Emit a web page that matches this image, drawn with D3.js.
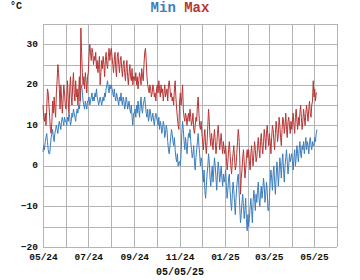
<!DOCTYPE html>
<html>
<head>
<meta charset="utf-8">
<script src="https://cdn.jsdelivr.net/npm/d3@7"></script>
<style>
  body { margin: 0; background: #fff; }
  text { font-family: "Liberation Mono", "DejaVu Sans Mono", monospace; font-weight: bold; }
</style>
</head>
<body>
<div id="chart"></div>
<script>
// daily readings, one value per day from 2024-05-01 to 2025-05-05
const startDay = "2024-05-01";
const stampLabel = "05/05/25";

const maxTemps = [
  // May 24
  15,12,11,13,10,14,19,18,15,12, 9,8,11,16,13,17,14,12,18,21, 25,23,19,14,20,17,13,16,20,18, 15,
  // Jun
  14,17,21,16,13,19,22,17,15,20, 23,18,16,21,17,19,15,18,22,16, 34,28,23,20,22,19,23,21,18,22,
  // Jul
  23,27,30,28,26,29,28,25,27,26, 28,24,26,23,25,27,20,23,26,24, 27,25,22,26,28,25,24,27,29,26, 28,
  // Aug
  29,27,25,23,26,28,24,22,27,28, 25,23,26,27,24,22,25,26,23,21, 24,26,22,20,23,25,22,21,24,20, 22,
  // Sep
  22,21,23,20,22,19,21,23,22,20, 24,22,21,25,28,29,26,22,20,19, 18,20,19,17,18,20,19,17,18,16,
  // Oct
  19,20,18,21,19,17,20,18,19,16, 18,20,17,18,19,16,20,21,19,17, 18,16,17,15,19,21,17,14,12,10, 9,
  // Nov
  16,18,15,17,20,14,12,11,13,12, 10,12,13,11,14,12,10,11,13,9, 8,10,12,11,15,17,13,10,9,11,
  // Dec
  8,6,4,7,9,5,3,6,10,14, 11,7,5,8,6,4,7,9,6,3, 5,8,10,7,4,6,8,5,3,6, 4,
  // Jan 25
  3,5,2,-1,1,4,6,3,0,-2, 1,3,5,2,-1,0,3,6,9,7, 2,-7,-3,-1,2,4,1,-3,-1,2, 4,
  // Feb
  2,4,1,-1,3,5,2,0,3,6, 4,1,2,5,7,4,2,6,8,5, 3,6,9,7,4,8,10,7,
  // Mar
  5,8,6,3,7,10,9,6,4,8, 11,9,6,8,12,10,7,5,9,12, 11,8,10,13,9,7,11,12,10,8, 11,
  // Apr
  9,11,13,10,8,12,14,11,9,12, 10,13,15,12,9,11,14,12,10,13, 15,13,11,14,16,13,12,15,16,21,
  // May 25
  17,19,16,18,18
];

const minTemps = [
  // May 24
  3.5,5,4,6,7,8,6,4,3,3, 5,7,8,9,7,6,8,9,10,9, 8,10,11,10,9,11,12,11,10,12, 11,
  // Jun
  11,10,12,11,13,12,10,11,13,12, 14,13,12,11,13,14,13,15,14,16, 19,20,18,16,15,14,16,15,14,16,
  // Jul
  16,17,15,16,17,18,16,17,16,18, 17,19,17,16,15,16,17,16,15,16, 17,16,18,17,19,20,21,19,18,20, 19,
  // Aug
  20,19,18,17,19,17,16,18,17,16, 15,17,16,18,16,15,17,16,14,15, 17,16,14,15,16,14,13,15,12,10, 13,
  // Sep
  13,14,12,15,13,16,14,12,15,17, 14,13,15,16,17,15,13,12,14,11, 12,14,13,11,12,13,11,10,12,13,
  // Oct
  12,11,10,12,9,11,10,8,9,11, 10,7,8,10,9,6,4,3,5,7, 9,8,6,5,7,4,2,1,3,0, 1,
  // Nov
  1,0,3,8,11,9,6,4,7,5, 3,6,8,7,9,6,4,2,3,5, 1,-1,2,4,6,8,5,3,0,2,
  // Dec
  1,-2,-4,-1,-6,-8,-5,-2,0,3, 1,-3,-5,-2,0,-4,-1,2,0,-3, -6,-2,1,-1,-4,-2,0,-3,-5,-2, -4,
  // Jan 25
  -3,-1,-5,-8,-6,-3,-2,-6,-9,-11, -7,-4,-6,-9,-12,-8,-5,-3,-2,-6, -10,-14,-12,-9,-7,-10,-13,-11,-8,-13, -16,
  // Feb
  -12,-15,-13,-10,-8,-11,-14,-9,-6,-8, -11,-7,-9,-6,-4,-8,-10,-7,-5,-8, -6,-3,-5,-9,-7,-4,-6,-11,
  // Mar
  -11,-8,-4,-1,-3,-6,-2,0,-4,-7, -3,1,-1,-5,-2,2,0,-3,1,3, -1,-4,0,2,4,1,-2,0,3,1, 2,
  // Apr
  3,1,-1,2,4,0,2,5,3,1, 4,6,3,2,5,4,6,3,5,7, 4,6,5,3,6,7,5,4,6,5,
  // May 25
  5,7,6,8,9
];

const yTickValues = [-20, -10, 0, 10, 20, 30];
const seriesNames = ["Min", "Max"];
const seriesColors = ["#3b7dbd", "#b83535"];

const W = 360, H = 280;
const margin = {top: 24, right: 23, bottom: 33, left: 43};

const svg = d3.select("#chart").append("svg")
  .attr("width", W)
  .attr("height", H);

const parseDay = d3.timeParse("%Y-%m-%d");
const day0 = parseDay(startDay);
const days = minTemps.map((d, i) => d3.timeDay.offset(day0, i));

const x = d3.scaleTime()
  .domain([day0, d3.timeMonth.offset(day0, 13)])
  .range([margin.left, W - margin.right]);

const y = d3.scaleLinear()
  .domain([-20, 35])
  .range([H - margin.bottom, margin.top]);

// grid
const grid = svg.append("g").attr("stroke", "#b3b3b3").attr("stroke-width", 1);
grid.selectAll(".hg")
  .data(d3.range(-20, 36, 5))
  .enter().append("line")
  .attr("x1", margin.left).attr("x2", W - margin.right)
  .attr("y1", d => Math.round(y(d)) + 0.5).attr("y2", d => Math.round(y(d)) + 0.5);
grid.selectAll(".vg")
  .data(x.ticks(d3.timeMonth.every(1)))
  .enter().append("line")
  .attr("y1", margin.top).attr("y2", H - margin.bottom)
  .attr("x1", d => Math.round(x(d)) + 0.5).attr("x2", d => Math.round(x(d)) + 0.5);

// axes labels
const yAxis = d3.axisLeft(y).tickValues(yTickValues).tickSize(0).tickPadding(5);
svg.append("g")
  .attr("transform", `translate(${margin.left},-1)`)
  .call(yAxis)
  .call(g => g.select(".domain").remove())
  .call(g => g.selectAll("text").attr("font-size", 9.5).attr("fill", "#111")
    .attr("font-family", "Liberation Mono, monospace").attr("font-weight", "bold"));

const xAxis = d3.axisBottom(x)
  .ticks(d3.timeMonth.every(2))
  .tickFormat(d3.timeFormat("%m/%y"))
  .tickSize(0).tickPadding(6);
svg.append("g")
  .attr("transform", `translate(0,${H - margin.bottom})`)
  .call(xAxis)
  .call(g => g.select(".domain").remove())
  .call(g => g.selectAll("text").attr("font-size", 9.5).attr("fill", "#111")
    .attr("font-family", "Liberation Mono, monospace").attr("font-weight", "bold"));

// lines
const line = d3.line()
  .x((d, i) => x(days[i]))
  .y(d => y(d));

[minTemps, maxTemps].forEach((series, k) => {
  svg.append("path")
    .datum(series)
    .attr("fill", "none")
    .attr("stroke", seriesColors[k])
    .attr("stroke-width", 1)
    .attr("stroke-linejoin", "round")
    .attr("d", line);
});

// title
const title = svg.append("text")
  .attr("x", 180).attr("y", 12)
  .attr("text-anchor", "middle")
  .attr("font-size", 14);
seriesNames.forEach((n, k) => {
  title.append("tspan").attr("fill", seriesColors[k]).text((k ? " " : "") + n);
});

svg.append("text")
  .attr("x", 10).attr("y", 9)
  .attr("font-size", 10)
  .attr("fill", "#111")
  .text("°C");

svg.append("text")
  .attr("x", 180).attr("y", 275)
  .attr("text-anchor", "middle")
  .attr("font-size", 10)
  .attr("fill", "#111")
  .text(stampLabel);
</script>
</body>
</html>
